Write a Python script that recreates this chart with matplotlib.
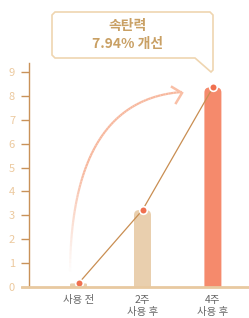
import numpy as np
import matplotlib
matplotlib.use('Agg')
import matplotlib.pyplot as plt
from matplotlib.patches import FancyBboxPatch, PathPatch
from matplotlib.path import Path
from matplotlib.collections import LineCollection

plt.rcParams['font.family'] = ['Noto Sans CJK KR', 'DejaVu Sans']

# data
labels = ['사용 전', '2주\n사용 후', '4주\n사용 후']
values = [0.15, 3.22, 8.35]
yticks = list(range(10))
title = '속탄력\n7.94% 개선'

bar_colors = ['#e9cfae', '#e9cfae', '#f58a6c']
W, H = 249, 318

fig = plt.figure(figsize=(W / 100, H / 100), dpi=100)

# axes placed in pixel terms
ax_l, ax_r, ax_b, ax_t = 29, 249, 287, 63
ax = fig.add_axes([ax_l / W, 1 - ax_b / H, (ax_r - ax_l) / W, (ax_b - ax_t) / H])
px_per_y = 23.9
px_per_x = 64.0
ax.set_ylim(0, (ax_b - ax_t) / px_per_y)
ax.set_xlim((ax_l - 78.5) / px_per_x, (ax_r - 78.5) / px_per_x)

pos = [0, 1, 2.1]
bw = 17 / px_per_x
aspect = px_per_x / px_per_y
for x, v, c in zip(pos, values, bar_colors):
    r = 0.08 if v > 1 else 0.02
    p = FancyBboxPatch((x - bw / 2 + r, -1 + r * aspect), bw - 2 * r, v + 1 - 2 * r * aspect,
                       boxstyle='round,pad=%f,rounding_size=%f' % (r, r),
                       mutation_aspect=aspect, fc=c, ec='none', zorder=2)
    ax.add_patch(p)

ax.plot(pos, values, color='#c98e52', lw=0.9, zorder=3)
ax.plot(pos, values, 'o', ms=5.5, mfc='#f0704f', mec='white', mew=1.2, zorder=4)

for s in ['top', 'right']:
    ax.spines[s].set_visible(False)
ax.spines['left'].set_color('#c99259')
ax.spines['left'].set_linewidth(1)
ax.spines['bottom'].set_visible(False)
ax.set_yticks(yticks)
ax.tick_params(axis='y', colors='#c99259', length=6, width=1, pad=4, labelsize=8,
               labelcolor='#ecc99e')
ax.set_xticks(pos)
ax.set_xticklabels(labels, fontsize=7.5, color='#666666', linespacing=1.2)
ax.tick_params(axis='x', length=0, pad=6)

def fp(x, y):
    return (x / W, 1 - y / H)

# baseline
fig.add_artist(plt.Line2D([22 / W, 1], [1 - 287 / H] * 2, color='#e8c9a0', lw=2,
                          transform=fig.transFigure))

# curved arrow
P0, P1, P2 = np.array([70, 276]), np.array([70, 100]), np.array([182, 92])
t = np.linspace(0, 1, 80)[:, None]
pts = (1 - t) ** 2 * P0 + 2 * (1 - t) * t * P1 + t ** 2 * P2
fpts = np.array([fp(x, y) for x, y in pts])
segs = np.stack([fpts[:-1], fpts[1:]], axis=1)
alphas = np.clip(t[:-1, 0] / 0.35, 0, 1)
cols = [(0.97, 0.72, 0.62, a) for a in alphas]
fig.add_artist(LineCollection(segs, colors=cols, linewidths=1.6, transform=fig.transFigure))
head = [fp(172, 87), fp(182, 93), fp(176, 103)]
fig.add_artist(plt.Line2D([h[0] for h in head], [h[1] for h in head], color='#f9bfa6',
                          lw=1.8, transform=fig.transFigure, solid_joinstyle='miter'))

# callout box
verts = [fp(55, 12), fp(210, 12), fp(213, 15), fp(213, 70), fp(211, 72), fp(195, 58),
         fp(55, 58), fp(52, 55), fp(52, 15), fp(55, 12)]
codes = [Path.MOVETO] + [Path.LINETO] * (len(verts) - 2) + [Path.CLOSEPOLY]
fig.add_artist(PathPatch(Path(verts, codes), fc='white', ec='#efd5b0', lw=1.2,
                         transform=fig.transFigure))
fig.text(128 / W, 1 - 35 / H, title, ha='center', va='center', fontsize=10,
         fontweight='bold', color='#c9a064', linespacing=1.35)

fig.savefig('out.png', dpi=100)
